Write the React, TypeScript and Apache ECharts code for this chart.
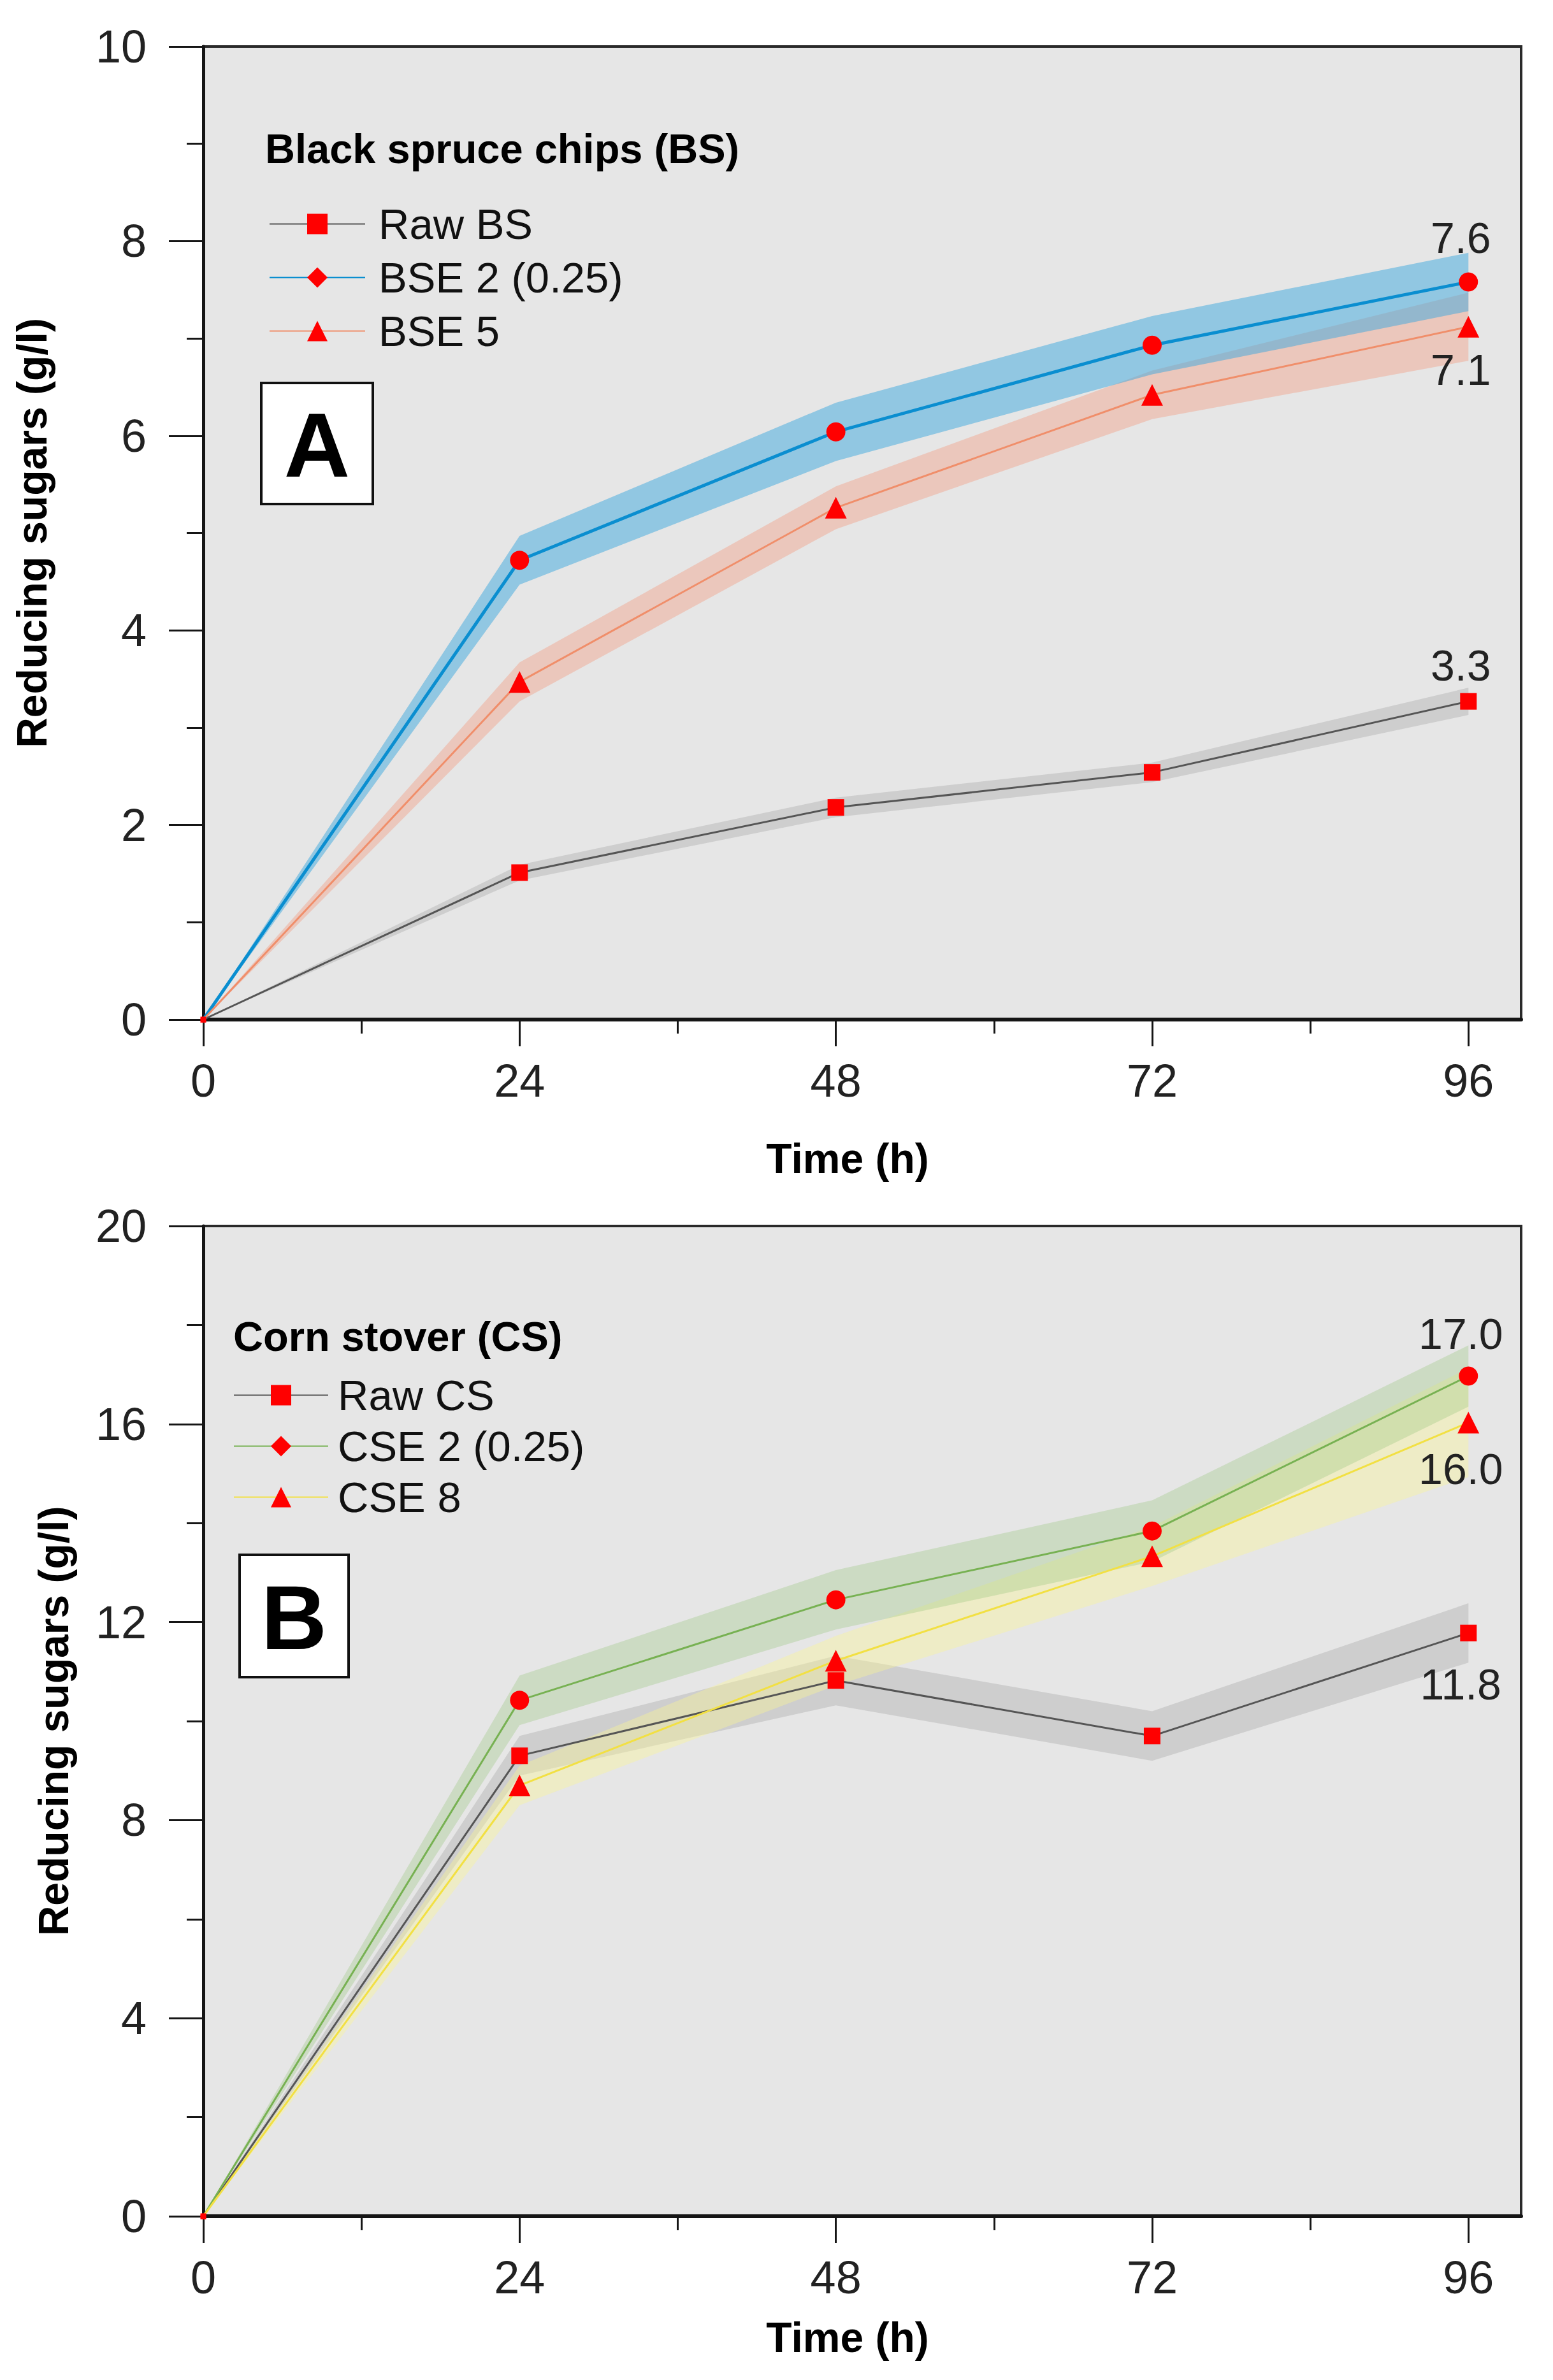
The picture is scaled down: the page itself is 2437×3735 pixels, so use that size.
import React, { useEffect, useRef } from "react";
import * as echarts from "echarts";

// ---------- data ----------
const TIME = [0, 24, 48, 72, 96];
const X_TICKS = [0, 24, 48, 72, 96];
const X_MINOR = [12, 36, 60, 84];

// Panel A: Black spruce chips
const A_NAMES = ["Raw BS", "BSE 2 (0.25)", "BSE 5"];
const RAW_BS = [0, 1.51, 2.18, 2.54, 3.27];
const RAW_BS_ERR = [0, 0.08, 0.1, 0.1, 0.14];
const BSE2 = [0, 4.72, 6.04, 6.93, 7.58];
const BSE2_ERR = [0, 0.25, 0.3, 0.3, 0.3];
const BSE5 = [0, 3.47, 5.26, 6.42, 7.12];
const BSE5_ERR = [0, 0.2, 0.22, 0.25, 0.35];
const A_END_LABELS = ["3.3", "7.6", "7.1"];

// Panel B: Corn stover
const B_NAMES = ["Raw CS", "CSE 2 (0.25)", "CSE 8"];
const RAW_CS = [0, 9.3, 10.82, 9.7, 11.78];
const RAW_CS_ERR = [0, 0.4, 0.5, 0.5, 0.6];
const CSE2 = [0, 10.42, 12.45, 13.84, 16.97];
const CSE2_ERR = [0, 0.5, 0.6, 0.62, 0.62];
const CSE8 = [0, 8.7, 11.22, 13.33, 16.03];
const CSE8_ERR = [0, 0.4, 0.5, 0.6, 1.1];
const B_END_LABELS = ["11.8", "17.0", "16.0"];

const FONT = "'Liberation Sans', Arial, sans-serif";
const INK = "#151515";

type Style = {
  line: string;
  lineWidth: number;
  band: string;
  symbol: string;
  pointSymbol: string;
  size: number;
};

const STYLE_RAW: Style = { line: "#555555", lineWidth: 3, band: "rgba(130,130,130,0.24)", symbol: "rect", pointSymbol: "rect", size: 26 };
const STYLE_BSE2: Style = { line: "#0a8ed0", lineWidth: 5, band: "rgba(60,168,222,0.5)", symbol: "diamond", pointSymbol: "circle", size: 30 };
const STYLE_BSE5: Style = { line: "#f08e6a", lineWidth: 3, band: "rgba(245,150,120,0.38)", symbol: "triangle", pointSymbol: "triangle", size: 34 };
const STYLE_CSE2: Style = { line: "#77b152", lineWidth: 3, band: "rgba(150,195,120,0.32)", symbol: "diamond", pointSymbol: "circle", size: 30 };
const STYLE_CSE8: Style = { line: "#f2e043", lineWidth: 3, band: "rgba(250,245,150,0.4)", symbol: "triangle", pointSymbol: "triangle", size: 34 };

function bandSeries(id: string, xi: number, vals: number[], errs: number[], color: string) {
  const rows = TIME.map((t, i) => [t, vals[i] - errs[i], vals[i] + errs[i]]);
  return {
    type: "custom",
    name: id,
    xAxisIndex: xi,
    yAxisIndex: xi === 0 ? 0 : 1,
    silent: true,
    z: 1,
    data: rows,
    encode: { x: 0, y: [1, 2] },
    renderItem: (params: any, api: any) => {
      if (params.dataIndex !== 0) return null;
      const upper = rows.map((r) => api.coord([r[0], r[2]]));
      const lower = rows.map((r) => api.coord([r[0], r[1]])).reverse();
      return {
        type: "polygon",
        shape: { points: upper.concat(lower) },
        style: { fill: color, stroke: "none" },
      };
    },
  };
}

function mainSeries(
  name: string,
  xi: number,
  vals: number[],
  st: Style,
  endLabel: string,
  pos: "top" | "bottom",
  dist: number
) {
  const data = TIME.map((t, i) => {
    const item: any = { value: [t, vals[i]], symbol: st.pointSymbol };
    if (i === 0) item.symbolSize = 9;
    if (i === TIME.length - 1) {
      item.label = {
        show: true,
        position: pos,
        distance: dist,
        offset: [-12, 0],
        formatter: endLabel,
        fontSize: 68,
        fontFamily: FONT,
        color: "#222",
      };
    }
    return item;
  });
  return {
    type: "line",
    name,
    xAxisIndex: xi,
    yAxisIndex: xi === 0 ? 0 : 1,
    data,
    symbol: st.symbol,
    symbolSize: st.size,
    itemStyle: { color: "#ff0000" },
    lineStyle: { color: st.line, width: st.lineWidth },
    z: 5,
  };
}

const tickLine = { color: INK, width: 3 };

function xAxes(grid: number, nameGap: number) {
  return [
    {
      type: "value",
      gridIndex: grid,
      min: 0,
      max: 100,
      position: "bottom",
      axisLine: { show: true, onZero: false, lineStyle: { color: INK, width: 6 } },
      axisTick: { show: true, length: 42, lineStyle: tickLine, customValues: X_TICKS },
      axisLabel: { customValues: X_TICKS, margin: 60, fontSize: 72, fontFamily: FONT, color: "#222" },
      splitLine: { show: false },
      name: "Time (h)",
      nameLocation: "middle",
      nameGap,
      nameTextStyle: { fontWeight: "bold", fontSize: 66, fontFamily: FONT, color: "#000", padding: [0, 46, 0, 0] },
    },
    {
      type: "value",
      gridIndex: grid,
      min: 0,
      max: 100,
      position: "bottom",
      axisLine: { show: false, onZero: false },
      axisTick: { show: true, length: 22, lineStyle: tickLine, customValues: X_MINOR },
      axisLabel: { show: false },
      splitLine: { show: false },
    },
  ];
}

function yAxis(grid: number, max: number, interval: number, nameGap: number) {
  return {
    type: "value",
    gridIndex: grid,
    min: 0,
    max,
    interval,
    axisLine: { show: true, onZero: false, lineStyle: { color: INK, width: 5 } },
    axisTick: { show: true, length: 54, lineStyle: tickLine },
    minorTick: { show: true, splitNumber: 2, length: 26, lineStyle: tickLine },
    axisLabel: { margin: 89, fontSize: 72, fontFamily: FONT, color: "#222" },
    splitLine: { show: false },
    minorSplitLine: { show: false },
    name: "Reducing sugars (g/l)",
    nameLocation: "middle",
    nameGap,
    nameTextStyle: { fontWeight: "bold", fontSize: 66, fontFamily: FONT, color: "#000" },
  };
}

function legend(names: string[], left: number, top: number, itemWidth: number, gap: number, padLeft: number) {
  return {
    data: names,
    orient: "vertical",
    left,
    top,
    padding: 0,
    itemWidth,
    itemHeight: 40,
    itemGap: gap,
    selectedMode: false,
    textStyle: { fontSize: 67, fontFamily: FONT, color: "#111", lineHeight: 67, padding: [0, 0, 0, padLeft] },
  };
}

function panelBox(x: number, y: number, w: number, h: number, letter: string) {
  return [
    { type: "rect", shape: { x, y, width: w, height: h }, style: { fill: "#fff", stroke: "#111", lineWidth: 4 }, z: 20 },
    {
      type: "text",
      x: x + w / 2,
      y: y + h / 2 + 2,
      style: { text: letter, fontSize: 143, fontWeight: "bold", fontFamily: FONT, fill: "#000", align: "center", verticalAlign: "middle" },
      z: 21,
    },
  ];
}

export default function App() {
  const ref = useRef<HTMLDivElement>(null);
  useEffect(() => {
    document.body.style.margin = "0";
    if (!ref.current) return;
    const chart = echarts.init(ref.current, null, { renderer: "svg" });
    const gridStyle = { show: true, backgroundColor: "#e6e6e6", borderColor: "#2a2a2a", borderWidth: 4 };
    const option: any = {
      animation: false,
      backgroundColor: "#ffffff",
      grid: [
        { left: 319, top: 73, width: 2068, height: 1527, ...gridStyle },
        { left: 319, top: 1924, width: 2068, height: 1554, ...gridStyle },
      ],
      xAxis: [...xAxes(0, 185), ...xAxes(1, 157)],
      yAxis: [yAxis(0, 10, 2, 236), yAxis(1, 20, 4, 202)],
      legend: [legend(A_NAMES, 422, 318, 150, 17, 16), legend(B_NAMES, 366, 2156, 148, 13, 10)],
      graphic: [
        {
          type: "text",
          x: 416,
          y: 233,
          style: { text: "Black spruce chips (BS)", fontSize: 65, fontWeight: "bold", fontFamily: FONT, fill: "#000", verticalAlign: "middle" },
          z: 20,
        },
        {
          type: "text",
          x: 366,
          y: 2097,
          style: { text: "Corn stover (CS)", fontSize: 65, fontWeight: "bold", fontFamily: FONT, fill: "#000", verticalAlign: "middle" },
          z: 20,
        },
        ...panelBox(410, 601, 175, 190, "A"),
        ...panelBox(376, 2440, 171, 192, "B"),
      ],
      series: [
        bandSeries("bandRawBS", 0, RAW_BS, RAW_BS_ERR, STYLE_RAW.band),
        bandSeries("bandBSE5", 0, BSE5, BSE5_ERR, STYLE_BSE5.band),
        bandSeries("bandBSE2", 0, BSE2, BSE2_ERR, STYLE_BSE2.band),
        mainSeries(A_NAMES[0], 0, RAW_BS, STYLE_RAW, A_END_LABELS[0], "top", 10),
        mainSeries(A_NAMES[1], 0, BSE2, STYLE_BSE2, A_END_LABELS[1], "top", 21),
        mainSeries(A_NAMES[2], 0, BSE5, STYLE_BSE5, A_END_LABELS[2], "bottom", 16),
        bandSeries("bandRawCS", 2, RAW_CS, RAW_CS_ERR, STYLE_RAW.band),
        bandSeries("bandCSE8", 2, CSE8, CSE8_ERR, STYLE_CSE8.band),
        bandSeries("bandCSE2", 2, CSE2, CSE2_ERR, STYLE_CSE2.band),
        mainSeries(B_NAMES[0], 2, RAW_CS, STYLE_RAW, B_END_LABELS[0], "bottom", 33),
        mainSeries(B_NAMES[1], 2, CSE2, STYLE_CSE2, B_END_LABELS[1], "top", 17),
        mainSeries(B_NAMES[2], 2, CSE8, STYLE_CSE8, B_END_LABELS[2], "bottom", 22),
      ],
    };
    chart.setOption(option);
    return () => chart.dispose();
  }, []);
  return <div ref={ref} style={{ width: 2437, height: 3735 }} />;
}
